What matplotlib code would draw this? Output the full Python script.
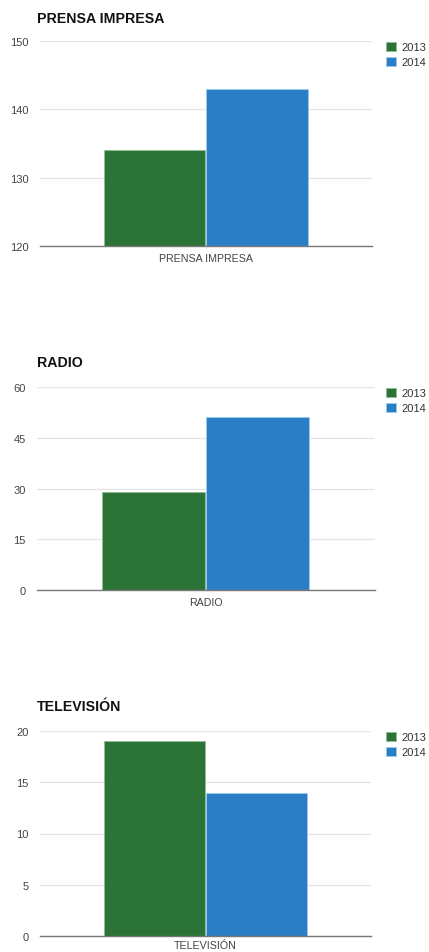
import matplotlib
matplotlib.use("Agg")
import matplotlib.pyplot as plt
from matplotlib.patches import Patch

plt.rcParams['font.family'] = ['Liberation Sans', 'DejaVu Sans']

titles = ["PRENSA IMPRESA", "RADIO", "TELEVISIÓN"]
series_names = ["2013", "2014"]
values_2013 = [134, 29, 19]
values_2014 = [143, 51, 14]
y_limits = [(120, 150), (0, 60), (0, 20)]
y_ticks = [[120, 130, 140, 150], [0, 15, 30, 45, 60], [0, 5, 10, 15, 20]]

colors = ["#2b7337", "#2a7ec5"]
edges = ["#8fbf8f", "#9ccbf0"]

W, H = 429, 953
fig = plt.figure(figsize=(W / 100, H / 100), dpi=100)
fig.patch.set_facecolor("white")

# axes boxes in pixels: left, top, right, bottom
boxes = [(40, 42, 372, 247), (37, 388, 375, 591), (40, 732, 371, 937)]
title_y = [19, 363, 707]
x_pads = [5, 5, 3]

for i in range(3):
    l, t, r, b = boxes[i]
    ax = fig.add_axes([l / W, (H - b) / H, (r - l) / W, (b - t) / H])
    bw = 0.305
    ax.bar([-bw / 2 - 0.003], [values_2013[i] - y_limits[i][0]], bottom=y_limits[i][0], width=bw,
           color=colors[0], edgecolor=edges[0], linewidth=0.6, zorder=3, label=series_names[0])
    ax.bar([bw / 2 + 0.001], [values_2014[i] - y_limits[i][0]], bottom=y_limits[i][0], width=bw,
           color=colors[1], edgecolor=edges[1], linewidth=0.6, zorder=3, label=series_names[1])
    ax.set_xlim(-0.5, 0.5)
    ax.set_ylim(*y_limits[i])
    ax.set_yticks(y_ticks[i])
    ax.set_xticks([0])
    ax.set_xticklabels([titles[i]], fontsize=7.7, color="#333333")
    for sp in ["top", "right", "left"]:
        ax.spines[sp].set_visible(False)
    ax.spines["bottom"].set_color("#777777")
    ax.spines["bottom"].set_linewidth(1.0)
    ax.spines["bottom"].set_zorder(4)
    ax.tick_params(axis="both", length=0, colors="#444444")
    ax.tick_params(axis="y", pad=8, labelsize=8)
    ax.tick_params(axis="x", pad=x_pads[i])
    ax.grid(axis="y", color="#e4e4e4", linewidth=0.9, zorder=0)
    ax.set_axisbelow(True)
    fig.text(37 / W, 1 - title_y[i] / H, titles[i], fontsize=10.2, fontweight="bold",
             ha="left", va="center", color="#111111")
    handles = [Patch(facecolor=colors[0], edgecolor=edges[0], linewidth=0.6),
               Patch(facecolor=colors[1], edgecolor=edges[1], linewidth=0.6)]
    fig.legend(handles, series_names, loc="upper left",
               bbox_to_anchor=(386 / W, 1 - (t + 1) / H), frameon=False, borderpad=0,
               borderaxespad=0,
               fontsize=8, handlelength=0.9, handleheight=0.8, handletextpad=0.45,
               labelspacing=0.45, labelcolor="#333333")

fig.savefig("out.png", dpi=100, facecolor="white")
